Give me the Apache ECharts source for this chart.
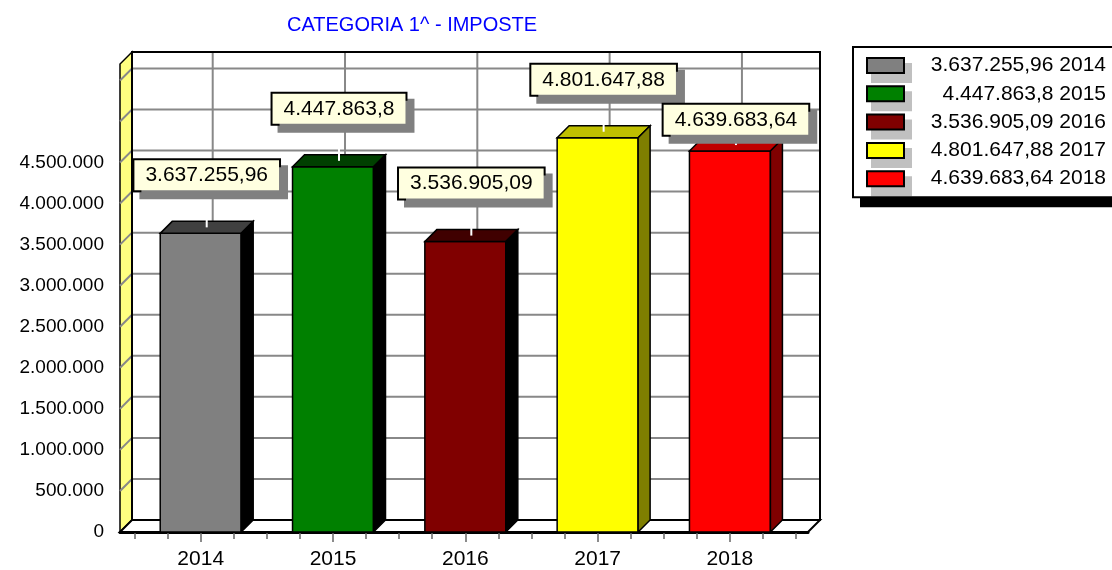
<!DOCTYPE html>
<html>
<head>
<meta charset="utf-8">
<script src="https://cdn.jsdelivr.net/npm/echarts@6/dist/echarts.min.js"></script>
<style>
  html, body { margin: 0; padding: 0; background: #fff; }
  #chart { width: 1112px; height: 570px; }
</style>
</head>
<body>
<div id="chart"></div>
<script>
// dati del grafico
const years = ['2014', '2015', '2016', '2017', '2018'];
const values = [3637255.96, 4447863.8, 3536905.09, 4801647.88, 4639683.64];
const colors = ['#808080', '#008000', '#800000', '#ffff00', '#ff0000'];
const titleText = 'CATEGORIA 1^ - IMPOSTE';

const FONT = '"Liberation Sans", Arial, sans-serif';
const X_MIN = -0.61, X_MAX = 4.59;
const Y_MAX = 5700000, Y_STEP = 500000;
const D = 12;          // profondita' 3D in px
const HALF = 0.306;    // meta' larghezza barra (unita' categoria)
const BOX_H = 30;

// 3.637.255,96
function fmt(v) {
  const parts = String(v).split('.');
  const intPart = parts[0].replace(/\B(?=(\d{3})+(?!\d))/g, '.');
  return parts[1] ? intPart + ',' + parts[1] : intPart;
}

// scurisce un colore togliendo amt ad ogni canale
function shade(hex, amt) {
  const n = parseInt(hex.slice(1), 16);
  const r = Math.max(0, (n >> 16) - amt);
  const g = Math.max(0, ((n >> 8) & 255) - amt);
  const b = Math.max(0, (n & 255) - amt);
  return 'rgb(' + r + ',' + g + ',' + b + ')';
}

const measureCtx = document.createElement('canvas').getContext('2d');
measureCtx.font = '21px ' + FONT;

// posizione del riquadro etichetta, spostato in basso se si sovrappone al precedente
function labelBox(k, api) {
  const p = api.coord([k, values[k]]);
  const w = measureCtx.measureText(fmt(values[k])).width + 26;
  const cx = p[0] + D / 2;
  const box = {cx: cx, left: cx - w / 2, right: cx + w / 2, bottom: p[1] - 43};
  box.top = box.bottom - BOX_H;
  if (k > 0) {
    const prev = labelBox(k - 1, api);
    if (box.left < prev.right && box.right > prev.left &&
        box.top < prev.bottom + 10 && box.bottom > prev.top) {
      box.top = prev.bottom + 10;
      box.bottom = box.top + BOX_H;
    }
  }
  return box;
}

function renderWall(params, api) {
  const a = api.coord([X_MIN, 0]);
  const b = api.coord([X_MAX, Y_MAX]);
  const L = a[0], B = a[1], R = b[0], T = b[1];
  const grid = [];
  for (let v = Y_STEP; v < Y_MAX; v += Y_STEP) {
    const y = api.coord([X_MIN, v])[1];
    grid.push({type: 'polyline', shape: {points: [[L, y], [L + D, y - D], [R + D, y - D]]},
      style: {stroke: '#888', lineWidth: 2, fill: null}});
  }
  for (let i = 0; i < years.length; i++) {
    const x = api.coord([i, 0])[0] + D;
    grid.push({type: 'line', shape: {x1: x, y1: B - D, x2: x, y2: T - D},
      style: {stroke: '#888', lineWidth: 2}});
  }
  return {
    type: 'group',
    children: [
      {type: 'rect', shape: {x: L + D, y: T - D, width: R - L, height: B - T},
        style: {fill: '#fff', stroke: '#000', lineWidth: 2}},
      {type: 'polygon', shape: {points: [[L, B], [L, T], [L + D, T - D], [L + D, B - D]]},
        style: {fill: '#ffff80', stroke: '#000', lineWidth: 1.5}}
    ].concat(grid).concat([
      {type: 'polygon', shape: {points: [[L, B], [R, B], [R + D, B - D], [L + D, B - D]]},
        style: {fill: '#fff', stroke: '#000', lineWidth: 2}},
      {type: 'rect', shape: {x: L + D, y: T - D, width: R - L, height: B - T},
        style: {fill: null, stroke: '#000', lineWidth: 2}}
    ])
  };
}

function renderBar(params, api) {
  const k = api.value(0), v = api.value(1);
  const p0 = api.coord([k - HALF, 0]);
  const p1 = api.coord([k + HALF, v]);
  const xl = p0[0], yb = p0[1], xr = p1[0], yt = p1[1];
  const c = colors[k];
  const box = labelBox(k, api);
  const mx = (xl + xr) / 2 + D / 2;
  return {
    type: 'group',
    children: [
      {type: 'rect', shape: {x: xl, y: yt, width: xr - xl, height: yb - yt},
        style: {fill: c, stroke: '#000', lineWidth: 1.5}},
      {type: 'polygon', shape: {points: [[xl, yt], [xl + D, yt - D], [xr + D, yt - D], [xr, yt]]},
        style: {fill: shade(c, 64), stroke: '#000', lineWidth: 1.5}},
      {type: 'polygon', shape: {points: [[xr, yt], [xr + D, yt - D], [xr + D, yb - D], [xr, yb]]},
        style: {fill: shade(c, 128), stroke: '#000', lineWidth: 1.5}},
      {type: 'line', shape: {x1: mx, y1: yt - D / 2, x2: mx, y2: yt - D / 2 - 14},
        style: {stroke: '#fff', lineWidth: 2}},
      {type: 'text', z2: 100,
        style: {
          text: fmt(v), x: box.cx, y: box.top, align: 'center', verticalAlign: 'top',
          font: '21px ' + FONT, lineHeight: 24, fill: '#000',
          backgroundColor: '#ffffe0', borderColor: '#000', borderWidth: 2,
          padding: [3, 11, 3, 11],
          shadowColor: '#808080', shadowOffsetX: 7, shadowOffsetY: 7, shadowBlur: 0
        }}
    ]
  };
}

const chartInstance = echarts.init(document.getElementById('chart'), null, {renderer: 'canvas'});

const quarterTicks = [];
for (let t = -0.5; t <= 4.5; t += 0.25) quarterTicks.push(t);

const barSeries = years.map(function (y, k) {
  return {
    name: fmt(values[k]) + ' ' + y,
    type: 'custom',
    z: 3,
    renderItem: renderBar,
    itemStyle: {color: colors[k]},
    encode: {x: 0, y: 1},
    data: [[k, values[k]]]
  };
});
const legendNames = barSeries.map(function (s) { return s.name; });

// tre legende sovrapposte: sfondo con ombra, ombre grigie dei quadratini, legenda vera
function legendBase(extra, textColor) {
  return Object.assign({
    orient: 'vertical',
    left: 853,
    top: 47,
    padding: [8, 12, 8, 13],
    itemWidth: 37,
    itemHeight: 15,
    itemGap: 7.3,
    icon: 'rect',
    selectedMode: false,
    borderWidth: 2,
    borderColor: 'transparent',
    backgroundColor: 'transparent',
    data: legendNames,
    formatter: function (name) { return '{a|' + name + '}'; },
    textStyle: {
      rich: {a: {width: 197, align: 'right', fontSize: 21, lineHeight: 22, fontFamily: FONT, color: textColor}}
    }
  }, extra);
}

const option = {
  animation: false,
  backgroundColor: '#fff',
  title: {
    text: titleText,
    left: 287,
    top: 15,
    padding: 0,
    textStyle: {color: '#0000ff', fontSize: 20, fontWeight: 'normal', fontFamily: FONT}
  },
  legend: [
    legendBase({
      z: 2,
      backgroundColor: '#fff',
      shadowColor: '#000',
      shadowBlur: 0,
      shadowOffsetX: 7,
      shadowOffsetY: 10,
      itemStyle: {color: 'transparent', borderWidth: 0}
    }, 'transparent'),
    legendBase({
      z: 3,
      left: 858,
      top: 54.5,
      itemWidth: 41,
      itemHeight: 20,
      itemStyle: {color: '#c0c0c0', borderWidth: 0}
    }, 'transparent'),
    legendBase({
      z: 4,
      borderColor: '#000',
      itemStyle: {borderColor: '#000', borderWidth: 2}
    }, '#000')
  ],
  grid: {left: 120, right: 304, top: 64, bottom: 37},
  xAxis: [
    {
      type: 'value',
      min: X_MIN,
      max: X_MAX,
      axisLine: {show: true, lineStyle: {color: '#000', width: 3}},
      axisTick: {show: true, customValues: quarterTicks, length: 7, lineStyle: {color: '#666', width: 1.5}},
      axisLabel: {
        customValues: [0, 1, 2, 3, 4],
        formatter: function (v) { return years[Math.round(v)]; },
        fontSize: 21, fontFamily: FONT, color: '#000', margin: 17
      },
      splitLine: {show: false}
    },
    {
      type: 'value',
      position: 'bottom',
      min: X_MIN,
      max: X_MAX,
      axisLine: {show: false},
      axisTick: {show: true, customValues: [0, 1, 2, 3, 4], length: 10, lineStyle: {color: '#666', width: 1.5}},
      axisLabel: {show: false},
      splitLine: {show: false}
    }
  ],
  yAxis: {
    type: 'value',
    min: 0,
    max: Y_MAX,
    interval: Y_STEP,
    axisLine: {show: true, lineStyle: {color: '#000', width: 3}},
    axisTick: {show: true, length: 9, lineStyle: {color: '#555', width: 1.5}},
    minorTick: {show: true, splitNumber: 5, length: 5, lineStyle: {color: '#555', width: 1.5}},
    splitLine: {show: false},
    axisLabel: {
      margin: 16, fontSize: 19, fontFamily: FONT, color: '#000',
      formatter: function (v) { return v > 4500000 ? '' : fmt(v); }
    }
  },
  series: [
    {
      name: 'wall',
      type: 'custom',
      z: 1,
      renderItem: renderWall,
      encode: {x: 0, y: 1},
      data: [[0, 0]]
    }
  ].concat(barSeries)
};

chartInstance.setOption(option);
</script>
</body>
</html>
